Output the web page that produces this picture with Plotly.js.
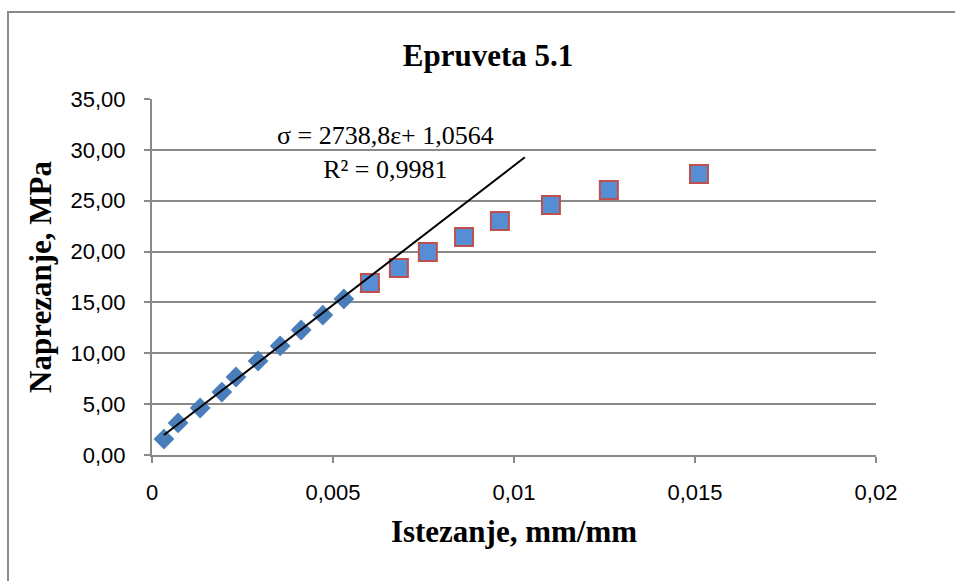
<!DOCTYPE html>
<html>
<head>
<meta charset="utf-8">
<script src="https://cdn.plot.ly/plotly-3.0.1.min.js"></script>
<style>html,body{margin:0;padding:0;background:#fff;}#chart{width:955px;height:581px;}</style>
</head>
<body>
<div id="chart"></div>
<script>
// Linear (elastic) region - diamonds
const strainLinear = [0.00033, 0.00072, 0.00133, 0.00193, 0.00232, 0.00293, 0.00354, 0.00412, 0.00472, 0.00530];
const stressLinear = [1.57, 3.15, 4.62, 6.19, 7.67, 9.24, 10.72, 12.29, 13.76, 15.34];
// Non-linear region - squares
const strainPlastic = [0.00602, 0.00682, 0.00762, 0.00862, 0.00961, 0.01102, 0.01262, 0.01511];
const stressPlastic = [16.91, 18.39, 19.96, 21.43, 23.01, 24.58, 26.05, 27.63];
// Trendline (as printed on the chart)
const trendSlope = 2738.8;
const trendIntercept = 1.0564;
const trendStrain = [0.00033, 0.0103];
const trendStress = trendStrain.map(e => trendSlope * e + trendIntercept);

const xTickVals = [0, 0.005, 0.01, 0.015, 0.02];
const xTickText = ['0', '0,005', '0,01', '0,015', '0,02'];

const gridCol = '#8a8a8a';

const traces = [
  {x: strainLinear, y: stressLinear, type: 'scatter', mode: 'markers',
   marker: {symbol: 'diamond', size: 16, color: '#4A7EBB', line: {width: 0}}, showlegend: false},
  {x: strainPlastic, y: stressPlastic, type: 'scatter', mode: 'markers',
   marker: {symbol: 'square', size: 18, color: '#558ED5', line: {width: 2, color: '#C0504D'}}, showlegend: false},
  {x: trendStrain, y: trendStress, type: 'scatter', mode: 'lines',
   line: {color: '#000000', width: 2}, showlegend: false}
];

const layout = {
  width: 955, height: 581,
  margin: {l: 152, r: 79, t: 99, b: 126},
  paper_bgcolor: '#ffffff', plot_bgcolor: '#ffffff',
  separators: ',.',
  font: {family: 'Liberation Sans, Arial, sans-serif', color: '#000'},
  title: {text: '<b>Epruveta 5.1</b>', font: {family: 'Liberation Serif, Times New Roman, serif', size: 31, color: '#000'},
          x: 0.511, xanchor: 'center', y: 0.905, yanchor: 'middle'},
  xaxis: {
    range: [0, 0.02], tickvals: xTickVals, ticktext: xTickText,
    showgrid: false, zeroline: false, showline: true, linecolor: gridCol, linewidth: 2,
    ticks: 'outside', ticklen: 6, tickwidth: 2, tickcolor: gridCol,
    tickfont: {family: 'Liberation Sans, Arial, sans-serif', size: 22, color: '#000'},
    ticklabelstandoff: 11,
    title: {text: '<b>Istezanje, mm/mm</b>', font: {family: 'Liberation Serif, Times New Roman, serif', size: 31, color: '#000'}, standoff: 16}
  },
  yaxis: {
    range: [0, 35], dtick: 5, tickformat: '.2f',
    showgrid: true, gridcolor: gridCol, gridwidth: 2,
    zeroline: false, showline: true, linecolor: gridCol, linewidth: 2,
    ticks: 'outside', ticklen: 6, tickwidth: 2, tickcolor: gridCol,
    tickfont: {family: 'Liberation Sans, Arial, sans-serif', size: 22, color: '#000'},
    ticklabelstandoff: 14,
    title: {text: '<b>Naprezanje, MPa</b>', font: {family: 'Liberation Serif, Times New Roman, serif', size: 31, color: '#000'}, standoff: 10}
  },
  annotations: [
    {xref: 'x', yref: 'y', x: 0.00646, y: 29.74, xanchor: 'center', yanchor: 'middle', showarrow: false,
     text: 'σ = 2738,8ε+ 1,0564<br>R² = 0,9981',
     font: {family: 'Liberation Serif, Times New Roman, serif', size: 26, color: '#000'}}
  ],
  shapes: [
    {type: 'path', xref: 'paper', yref: 'paper', path: 'M -0.1989 -1 L -0.1989 1.2444 L 2 1.2444',
     line: {color: '#8a8a8a', width: 2}}
  ]
};

Plotly.newPlot('chart', traces, layout, {displayModeBar: false, staticPlot: true});
</script>
</body>
</html>
